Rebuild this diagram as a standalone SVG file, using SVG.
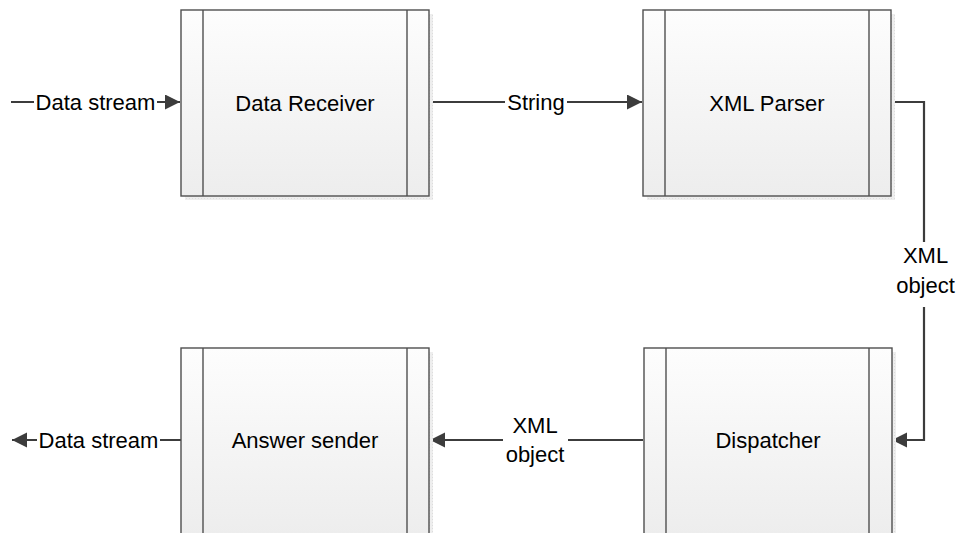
<svg xmlns="http://www.w3.org/2000/svg" width="959" height="533" viewBox="0 0 959 533">
  <style>
    .frame { fill: url(#boxFill); stroke: #4f4f4f; stroke-width: 1.4; }
    .bar { stroke: #4f4f4f; stroke-width: 1.4; fill: none; }
    .shadow { fill: url(#shadeDots); }
    .lbl { font-family: "Liberation Sans", Arial, sans-serif; font-size: 22px; fill: #000; text-anchor: middle; }
    .wire { fill: none; stroke: #3c3c3c; stroke-width: 2.2; }
    .gap { fill: #fff; }
  </style>
  <defs>
    <linearGradient id="boxFill" x1="0" y1="0" x2="0" y2="1">
      <stop offset="0" stop-color="#fdfdfd"/>
      <stop offset="1" stop-color="#ededed"/>
    </linearGradient>
    <pattern id="shadeDots" width="3" height="3" patternUnits="userSpaceOnUse">
      <rect width="3" height="3" fill="#eeeeee"/>
      <rect width="1" height="1" fill="#dddddd"/>
    </pattern>
    <marker id="head" markerUnits="userSpaceOnUse" markerWidth="16" markerHeight="16" refX="15" refY="7.5" orient="auto">
      <path d="M0,0 L15,7.5 L0,15 Z" fill="#3c3c3c"/>
    </marker>
  </defs>

  <rect width="959" height="533" fill="#fff"/>

  <!-- connectors -->
  <g id="connectors">
    <line class="wire" x1="11" y1="102" x2="180" y2="102" marker-end="url(#head)"/>
    <line class="wire" x1="430" y1="102" x2="642" y2="102" marker-end="url(#head)"/>
    <polyline class="wire" points="892,102 924,102 924,440 892,440" marker-end="url(#head)"/>
    <line class="wire" x1="643" y1="440" x2="430" y2="440" marker-end="url(#head)"/>
    <line class="wire" x1="181" y1="440" x2="12" y2="440" marker-end="url(#head)"/>

    <!-- label backgrounds and labels -->
    <rect class="gap" x="34" y="90" width="123" height="24"/>
    <text class="lbl" x="95.5" y="110">Data stream</text>

    <rect class="gap" x="505" y="90" width="62" height="24"/>
    <text class="lbl" x="536" y="110">String</text>

    <rect class="gap" x="895" y="242" width="62" height="65"/>
    <text class="lbl" x="925.5" y="263">XML</text>
    <text class="lbl" x="925.5" y="293">object</text>

    <rect class="gap" x="503" y="412" width="65" height="58"/>
    <text class="lbl" x="535" y="433">XML</text>
    <text class="lbl" x="535" y="462">object</text>

    <rect class="gap" x="37" y="428" width="123" height="24"/>
    <text class="lbl" x="98.5" y="448">Data stream</text>
  </g>

  <!-- processes -->
  <g id="data-receiver">
    <rect class="shadow" x="185" y="14" width="248" height="186"/>
    <rect class="frame" x="181" y="10" width="248" height="186"/>
    <line class="bar" x1="203" y1="10" x2="203" y2="196"/>
    <line class="bar" x1="407" y1="10" x2="407" y2="196"/>
    <text class="lbl" x="305" y="111">Data Receiver</text>
  </g>

  <g id="xml-parser">
    <rect class="shadow" x="647" y="14" width="248" height="186"/>
    <rect class="frame" x="643" y="10" width="248" height="186"/>
    <line class="bar" x1="665" y1="10" x2="665" y2="196"/>
    <line class="bar" x1="869" y1="10" x2="869" y2="196"/>
    <text class="lbl" x="767" y="111">XML Parser</text>
  </g>

  <g id="dispatcher">
    <rect class="shadow" x="648" y="352" width="248" height="186"/>
    <rect class="frame" x="644" y="348" width="248" height="186"/>
    <line class="bar" x1="666" y1="348" x2="666" y2="534"/>
    <line class="bar" x1="869" y1="348" x2="869" y2="534"/>
    <text class="lbl" x="768" y="448">Dispatcher</text>
  </g>

  <g id="answer-sender">
    <rect class="shadow" x="185" y="352" width="248" height="186"/>
    <rect class="frame" x="181" y="348" width="248" height="186"/>
    <line class="bar" x1="203" y1="348" x2="203" y2="534"/>
    <line class="bar" x1="407" y1="348" x2="407" y2="534"/>
    <text class="lbl" x="305" y="448">Answer sender</text>
  </g>
</svg>
